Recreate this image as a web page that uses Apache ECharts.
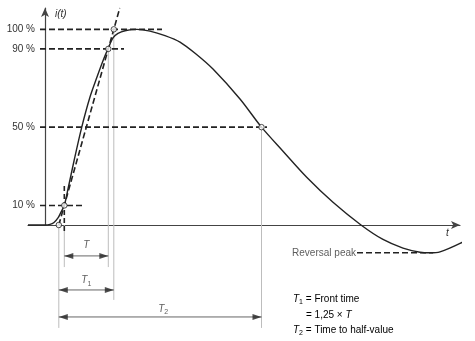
<!DOCTYPE html>
<html><head><meta charset="utf-8">
<script src="https://cdn.jsdelivr.net/npm/echarts@6/dist/echarts.min.js"></script>
<style>html,body{margin:0;padding:0;background:#fff}#c{width:475px;height:341px}</style>
</head><body><div id="c"></div>
<script>
// ---- data (time in arbitrary units, current in % of peak) ----
const levels = [10, 50, 90, 100];
const levelLabels = ['10 %', '50 %', '90 %', '100 %'];
const levelLineEnds = [37, 222, 79, 117];
const curveT = [-17, 0, 5, 9, 13, 16, 19.3, 23, 29, 36.7, 45, 52, 58.3, 63, 68, 73, 80, 92, 105, 120, 135, 151, 168, 195, 216.5, 238, 261.7, 288, 316, 338, 358, 375, 385, 395, 415, 430];
const curveI = [0, 0, 0.3, 1.3, 3.6, 6.6, 10, 18.4, 32.7, 49.9, 65.4, 75.6, 84.3, 90, 95.6, 97.9, 99.3, 100, 99.1, 96.8, 93.5, 87.4, 79.7, 64.4, 50, 37.7, 24.4, 11.6, 0, -7.4, -11.8, -13.9, -14.2, -13.7, -9.4, -4.9];
const keyTimes = { t10: 19.3, t90: 63.3, t50: 216.5 };
const reversalPeak = -14.2;
const reversalLine = [312, 388];

// ---- derived ----
const slope = (keyTimes.t90 - keyTimes.t10) / 80;       // time per %
const tO1 = keyTimes.t10 - 10 * slope;                    // virtual origin
const t100 = keyTimes.t10 + 90 * slope;
const yMax = 110.9;
const tTop = tO1 + yMax * slope;

const INK = '#222', GREY = '#bdbdbd', TXT = '#333';
const FONT = '"Liberation Sans", Arial, sans-serif';

function seg(coords, color, width, type, z) {
  return { type: 'line', data: coords, showSymbol: false, symbol: 'none', clip: false, silent: true,
    lineStyle: { color: color, width: width, type: type || 'solid' }, z: z || 2, animation: false };
}

const series = [];
// grey guide lines
[[tO1, 0, -52.6], [keyTimes.t10, 0, -21.5], [keyTimes.t90, 90, -21.5], [t100, 100, -38.3], [keyTimes.t50, 50, -52.6]]
  .forEach(g => series.push(seg([[g[0], g[1]], [g[0], g[2]]], GREY, 1, 'solid', 1)));
// dashed level lines
levels.forEach((lv, i) => series.push(seg([[-5, lv], [levelLineEnds[i], lv]], INK, 1.6, [6, 3], 3)));
// front line (through 10 % and 90 %)
series.push(seg([[tO1, 0], [tTop, yMax]], INK, 1.6, [6, 3], 3));
// small vertical dashed marker at 10 %
series.push(seg([[keyTimes.t10, 19.9], [keyTimes.t10, -3.6]], INK, 1.6, [5, 3], 3));
// reversal peak dashed
series.push(seg([[reversalLine[0], reversalPeak], [reversalLine[1], reversalPeak]], INK, 1.6, [6, 3], 3));
// the impulse curve
series.push({ type: 'line', data: curveT.map((t, i) => [t, curveI[i]]), smooth: 0.3,
  showSymbol: false, symbol: 'none', clip: false, lineStyle: { color: INK, width: 1.4 }, z: 4, animation: false });
// dimension arrows
const dims = [[keyTimes.t10, keyTimes.t90, -15.8], [tO1, t100, -33.2], [tO1, keyTimes.t50, -47]];
dims.forEach(d => series.push(seg([[d[0], d[2]], [d[1], d[2]]], '#555', 0.9, 'solid', 2)));
const headL = 'path://M10,0L0,4L10,8Z', headR = 'path://M0,0L10,4L0,8Z';
series.push({ type: 'scatter', clip: false, silent: true, animation: false, z: 5,
  itemStyle: { color: INK },
  data: dims.flatMap(d => [
    { value: [d[0], d[2]], symbol: headL, symbolSize: [9, 6], symbolOffset: [4.5, 0] },
    { value: [d[1], d[2]], symbol: headR, symbolSize: [9, 6], symbolOffset: [-4.5, 0] }
  ]) });
// open circles
series.push({ type: 'scatter', clip: false, silent: true, animation: false, z: 6, symbol: 'circle', symbolSize: 5.5,
  itemStyle: { color: '#fff', borderColor: INK, borderWidth: 1 },
  data: [[tO1, 0], [keyTimes.t10, 10], [keyTimes.t90, 90], [t100, 100], [keyTimes.t50, 50]] });
// labels
const rich = {
  i: { fontFamily: FONT, fontSize: 10, fontStyle: 'italic', color: TXT, lineHeight: 13 },
  s: { fontFamily: FONT, fontSize: 7, color: TXT, lineHeight: 8, verticalAlign: 'bottom' },
  n: { fontFamily: FONT, fontSize: 10, color: TXT, lineHeight: 13 }
};
series.push({ type: 'scatter', clip: false, silent: true, animation: false, z: 7, symbolSize: 0,
  label: { show: true, position: 'inside', rich: rich },
  data: [
    { value: [(keyTimes.t10 + keyTimes.t90) / 2, -10.2], label: { formatter: '{i|T}' } },
    { value: [(tO1 + t100) / 2, -28.4], label: { formatter: '{i|T}{s|1}' } },
    { value: [(tO1 + keyTimes.t50) / 2 + 3, -42.9], label: { formatter: '{i|T}{s|2}' } },
    { value: [reversalLine[0] - 1, reversalPeak], label: { position: 'left', distance: 0, formatter: '{n|Reversal peak}' } }
  ] });

const chart = echarts.init(document.getElementById('c'), null, { renderer: 'canvas' });
chart.setOption({
  animation: false,
  backgroundColor: '#fff',
  grid: { left: 28, right: 15, top: 8, bottom: 116, containLabel: false, outerBoundsMode: 'none' },
  xAxis: { type: 'value', min: -17, max: 415,
    axisLine: { show: true, onZero: true, symbol: ['none', 'arrow'], symbolSize: [6, 9], lineStyle: { color: '#444', width: 1.2 } },
    axisTick: { show: false }, axisLabel: { show: false }, splitLine: { show: false } },
  yAxis: { type: 'value', min: 0, max: yMax,
    axisLine: { show: true, onZero: true, symbol: ['none', 'arrow'], symbolSize: [6, 9], lineStyle: { color: '#444', width: 1.2 } },
    axisTick: { show: false }, splitLine: { show: false },
    axisLabel: { show: true, customValues: levels, margin: -7, color: TXT, fontFamily: FONT, fontSize: 10,
      formatter: v => levelLabels[levels.indexOf(v)] } },
  graphic: [
    { type: 'text', left: 55, top: 9, style: { text: 'i(t)', font: 'italic 10px ' + FONT, fill: TXT } },
    { type: 'text', left: 446, top: 228, style: { text: 't', font: 'italic 10px ' + FONT, fill: TXT } },
    { type: 'text', left: 293, top: 294, style: { text: '{i|T}{s|1}{n| = Front time}', rich: rich } },
    { type: 'text', left: 306, top: 310, style: { text: '{n|= 1,25 × }{i|T}', rich: rich } },
    { type: 'text', left: 293, top: 325, style: { text: '{i|T}{s|2}{n| = Time to half-value}', rich: rich } }
  ],
  series: series
});
</script>
</body></html>
